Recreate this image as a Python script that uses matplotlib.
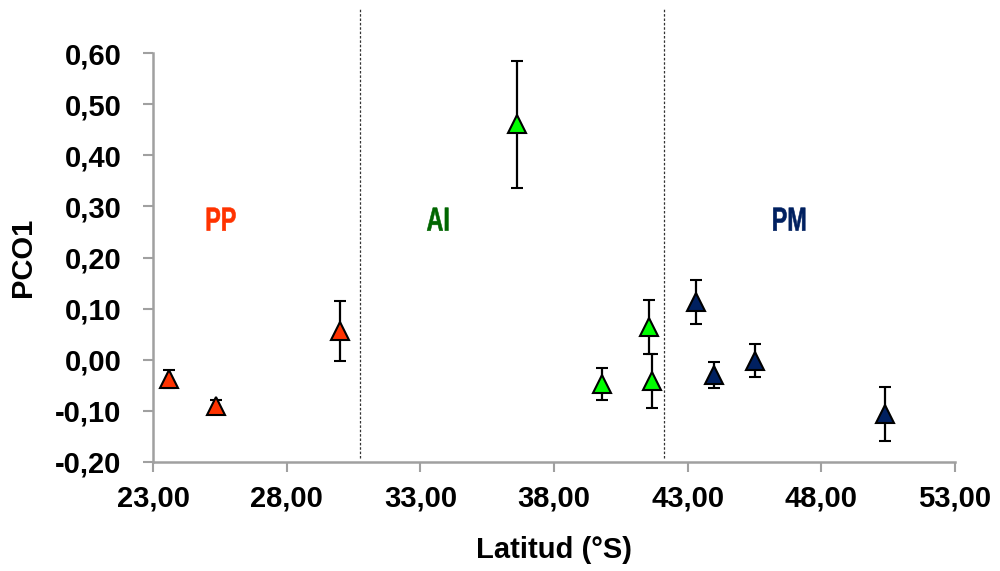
import numpy as np
import matplotlib.pyplot as plt
from matplotlib.ticker import FuncFormatter
from matplotlib.textpath import TextPath
from matplotlib.patches import PathPatch
from matplotlib.font_manager import FontProperties
from matplotlib.transforms import Affine2D, ScaledTranslation

plt.rcParams['font.family'] = ['Liberation Sans', 'DejaVu Sans']
plt.rcParams['font.weight'] = 'bold'

# Zone PP (red)
pp_lat = [23.6, 25.35, 30.0]
pp_pco = [-0.038, -0.090, 0.056]
pp_err = [0.017, 0.012, 0.059]

# Zone AI (green)
ai_lat = [36.6, 39.8, 41.55, 41.65]
ai_pco = [0.461, -0.047, 0.064, -0.041]
ai_err = [0.124, 0.031, 0.052, 0.053]

# Zone PM (navy)
pm_lat = [43.3, 44.0, 45.5, 50.4]
pm_pco = [0.113, -0.030, -0.002, -0.106]
pm_err = [0.043, 0.026, 0.032, 0.053]

# zone boundaries and labels
limits = [30.75, 42.1]
zone_names = ["PP", "AI", "PM"]
zone_x = [25.55, 33.65, 46.8]
zone_y = 0.275
zone_text_col = ["#FF3300", "#006600", "#002060"]
marker_col = ["#FF3300", "#00FF00", "#002060"]

fig = plt.figure(figsize=(10, 5.71), dpi=100)
ax = fig.add_axes([0.153, 0.191, 0.802, 0.716])

series = [(pp_lat, pp_pco, pp_err), (ai_lat, ai_pco, ai_err), (pm_lat, pm_pco, pm_err)]
for (x, y, e), c in zip(series, marker_col):
    ax.errorbar(x, y, yerr=e, fmt='^', ms=13, mfc=c, mec='black', mew=1.5,
                ecolor='black', elinewidth=1.6, capsize=4.5, capthick=1.6, zorder=3)

for lx in limits:
    ax.axvline(lx, ymin=0.01, ymax=1.11, color='#333333', ls=(0, (2, 1.5)), lw=0.9,
               clip_on=False, zorder=1)

ax.set_xlim(23, 53)
ax.set_ylim(-0.2, 0.6)

# condensed zone labels (narrow bold look): text path squeezed horizontally
fp = FontProperties(family='Liberation Sans', weight='bold')
for name, zx, col in zip(zone_names, zone_x, zone_text_col):
    tp = TextPath((0, 0), name, size=24, prop=fp)
    bb = tp.get_extents()
    tr = (Affine2D().translate(-(bb.x0 + bb.x1) / 2, -(bb.y0 + bb.y1) / 2)
          .scale(0.7 / 72, 1.0 / 72)
          + fig.dpi_scale_trans
          + ScaledTranslation(zx, zone_y, ax.transData))
    ax.add_patch(PathPatch(tp, transform=tr, facecolor=col, edgecolor=col, lw=0.4,
                           clip_on=False))

ax.set_xticks(np.arange(23, 54, 5))
ax.set_yticks(np.arange(-0.2, 0.61, 0.1))
fmt = FuncFormatter(lambda v, p: f"{v:.2f}".replace('.', ',').replace('-0,00', '0,00'))
ax.xaxis.set_major_formatter(fmt)
ax.yaxis.set_major_formatter(fmt)

for s in ['top', 'right']:
    ax.spines[s].set_visible(False)
for s in ['left', 'bottom']:
    ax.spines[s].set_color('#A0A0A0')
    ax.spines[s].set_linewidth(1.8)
ax.tick_params(axis='both', direction='out', length=7.5, width=1.5, color='#A0A0A0',
               labelsize=21)
ax.tick_params(axis='y', pad=15)
ax.tick_params(axis='x', pad=9)
for lab in ax.get_xticklabels() + ax.get_yticklabels():
    lab.set_fontweight('bold')

ax.set_xlabel("Latitud (°S)", fontsize=21, fontweight='bold', labelpad=17)
ax.set_ylabel("PCO1", fontsize=21, fontweight='bold', labelpad=13)

fig.savefig("out.png", dpi=100)
